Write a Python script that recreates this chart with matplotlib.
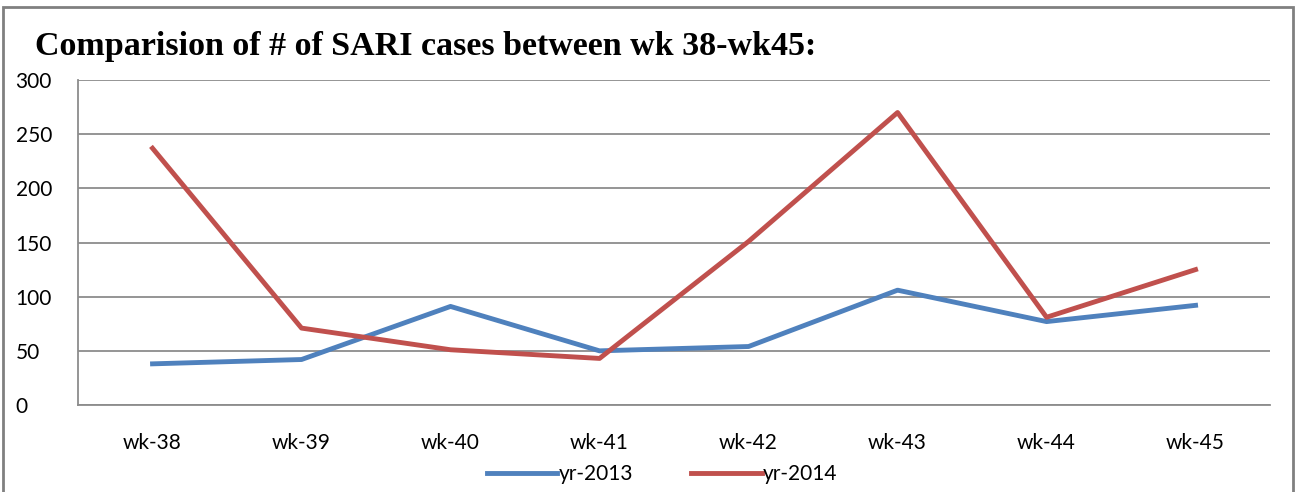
import numpy as np
import matplotlib.pyplot as plt

weeks = ['wk-38', 'wk-39', 'wk-40', 'wk-41', 'wk-42', 'wk-43', 'wk-44', 'wk-45']
yr2013 = [38, 42, 91, 50, 54, 106, 77, 92]
yr2014 = [237, 71, 51, 43, 151, 270, 81, 125]

plt.rcParams['font.family'] = ['Lato', 'DejaVu Sans']

fig = plt.figure(figsize=(12.96, 4.92), dpi=100)
ax = fig.add_axes([0.0602, 0.1768, 0.9198, 0.6606])

x = np.arange(len(weeks))
ax.plot(x, yr2013, color='#4F81BD', linewidth=3.5, label='yr-2013')
ax.plot(x, yr2014, color='#C0504D', linewidth=3.5, label='yr-2014')

ax.set_xlim(-0.5, len(weeks) - 0.5)
ax.set_ylim(0, 300)
ax.set_yticks(range(0, 301, 50))
ax.set_xticks(x)
ax.set_xticklabels(weeks)
ax.tick_params(axis='both', length=0, labelsize=15, colors='black')
ax.tick_params(axis='x', pad=20)
ax.tick_params(axis='y', pad=45)
for lbl in ax.get_yticklabels():
    lbl.set_horizontalalignment('left')

ax.grid(axis='y', color='#8c8c8c', linewidth=1.3)
ax.set_axisbelow(True)
for s in ['top', 'right']:
    ax.spines[s].set_visible(False)
ax.spines['left'].set_color('#8c8c8c')
ax.spines['bottom'].set_color('#8c8c8c')
ax.spines['left'].set_linewidth(1.3)
ax.spines['bottom'].set_linewidth(1.3)

fig.text(0.027, 0.905, 'Comparision of # of SARI cases between wk 38-wk45:',
         fontsize=24.5, fontweight='bold', family=['Liberation Serif', 'DejaVu Serif'],
         va='center')

ax.legend(loc='upper center', bbox_to_anchor=(0.49, -0.125), ncol=2, frameon=False,
          fontsize=15, handlelength=3.4, handletextpad=0.05, columnspacing=2.8)

# figure border
fig.patches.append(plt.Rectangle((0.002, -0.01), 0.996, 0.995, transform=fig.transFigure,
                                 fill=False, edgecolor='#808080', linewidth=2))

fig.savefig('out.png', dpi=100)
